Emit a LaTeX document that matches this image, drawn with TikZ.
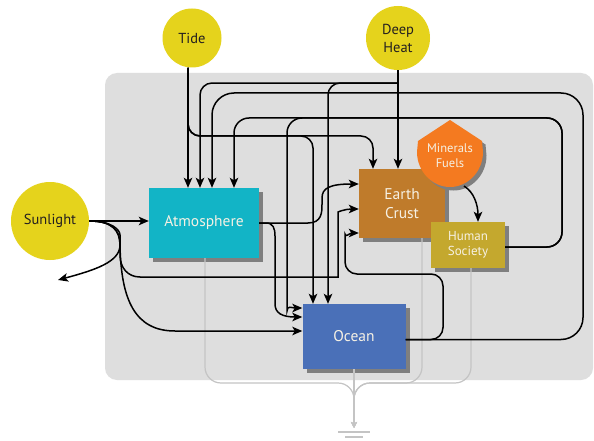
\documentclass[tikz,border=0pt]{standalone}
\usepackage{fontspec}
\setmainfont{PT Sans}
\usetikzlibrary{arrows.meta}
\definecolor{panel}{HTML}{DEDEDE}
\definecolor{sunyellow}{HTML}{E5D31C}
\definecolor{atmcol}{HTML}{12B4C6}
\definecolor{earthcol}{HTML}{BF7B2B}
\definecolor{mincol}{HTML}{F47A20}
\definecolor{humcol}{HTML}{C4A82E}
\definecolor{oceancol}{HTML}{4A70B8}
\definecolor{shadowgray}{HTML}{7F7F7F}
\definecolor{sinkcol}{HTML}{C4C4C4}
\definecolor{boxtext}{HTML}{F6F1E4}
\definecolor{darktext}{HTML}{231F20}

\begin{document}
\begin{tikzpicture}[x=1pt,y=-1pt,
  source/.style={circle,fill=sunyellow,inner sep=0pt,align=center,
    font=\fontsize{14.5}{18}\selectfont,text=darktext},
  store/.style={rectangle,inner sep=0pt,align=center,text=boxtext,
    preaction={fill=shadowgray,transform canvas={xshift=4pt,yshift=-4pt}}},
  flow/.style={line width=1.5pt,-{Stealth[length=10pt,width=8.5pt,inset=2.5pt]}},
  sink/.style={draw=sinkcol,line width=1.2pt,rounded corners=16pt,
    -{Stealth[length=6pt,width=6pt,inset=1.5pt]}},
  dropshape/.style={preaction={fill=shadowgray,transform canvas={xshift=3.5pt,yshift=-3.5pt}}},
]
\useasboundingbox (0,0) rectangle (594,441);
\fill[white] (0,0) rectangle (594,441);

% system boundary
\fill[panel,rounded corners=12pt] (105,73) rectangle (593,380);

% energy sources
\node[source,minimum size=59pt] (tide) at (192,38) {Tide};
\node[source,minimum size=64pt] (deep) at (398,38) {Deep\\Heat};
\node[source,minimum size=78pt] (sun) at (50,221) {Sunlight};

% storages
\node[store,fill=atmcol,minimum width=110pt,minimum height=70pt,
  font=\fontsize{15.5}{18}\selectfont] (atm) at (204,223) {Atmosphere};
\node[store,fill=earthcol,minimum width=86pt,minimum height=69pt,
  font=\fontsize{15.5}{18.5}\selectfont] (earth) at (402,203.5) {Earth\\Crust};

% minerals and fuels: pointed-top drop shape with its shadow
\fill[mincol,dropshape] (450,120) -- (418,141) -- (417,152)
  .. controls (417,171) and (431.8,187) .. (450,187)
  .. controls (468.2,187) and (483,171) .. (483,152) -- (482,141) -- cycle;
\node[circle,minimum size=66pt,inner sep=0pt,align=center,text=boxtext,
  font=\fontsize{12.5}{15}\selectfont] (minerals) at (450,156) {Minerals\\Fuels};

\node[store,fill=humcol,minimum width=74pt,minimum height=46pt,
  font=\fontsize{13}{15.5}\selectfont] (hs) at (468,245) {Human\\Society};
\node[store,fill=oceancol,minimum width=103pt,minimum height=65pt,
  font=\fontsize{15.5}{18}\selectfont] (ocean) at (354,336.5) {Ocean};

% heat sink
\coordinate (earthing) at (354,428);
\draw[sink] ([xshift=1pt]atm.south) -- (205,383) -- (354,383) -- (earthing);
\draw[sink] ([xshift=20pt]earth.south) -- (422,383) -- (354,383) -- (earthing);
\draw[sink] ([xshift=3pt]hs.south) -- (471,383) -- (354,383) -- (earthing);
\draw[sink] (ocean.south) -- (earthing);
\draw[sinkcol,line width=1.6pt] ([xshift=-16pt,yshift=-4pt]earthing) -- ([xshift=16pt,yshift=-4pt]earthing);
\draw[sinkcol,line width=1.6pt] ([xshift=-9pt,yshift=-9pt]earthing) -- ([xshift=9pt,yshift=-9pt]earthing);

% tide
\draw[flow] ([xshift=-4pt]tide.south) -- ([xshift=-16pt]atm.north);
\draw[flow,rounded corners=12pt] ([xshift=-4pt]tide.south) -- (188,136) -- (373,136)
  -- ([xshift=-29pt]earth.north);
\draw[flow,rounded corners=12pt] ([xshift=-4pt]tide.south) -- (188,136) -- (313,136)
  -- ([xshift=-41pt]ocean.north);

% deep heat
\coordinate (heatsplit) at ([yshift=-13pt]deep.south);
\draw[flow] (deep.south) -- ([xshift=-4pt]earth.north);
\draw[flow,rounded corners=12pt] (heatsplit) -- (200,83) -- ([xshift=-4pt]atm.north);
\draw[flow,rounded corners=12pt] (heatsplit) -- (328,83) -- ([xshift=-26pt]ocean.north);

% sunlight
\coordinate (space) at (58,280);
\draw[flow] (sun.east) -- ([yshift=2pt]atm.west);
\draw[flow] (sun.east) .. controls (112,221) and (120,230) .. (120,245)
  .. controls (120,262) and (95,270) .. (space);
\draw[flow,rounded corners=10pt] (sun.east) .. controls (112,221) and (120,230) .. (120,245)
  .. controls (120,268) and (128,277) .. (150,277) -- (328,277)
  .. controls (338,277) and (338,270) .. (338,262) -- (338,222)
  .. controls (338,212) and (345,209) .. ([yshift=-5.5pt]earth.west);
\draw[flow] (sun.east) .. controls (112,221) and (120,230) .. (120,245)
  .. controls (121,300) and (135,331) .. (175,331) -- ([yshift=5.5pt]ocean.west);

% atmosphere
\draw[flow] (atm.east) -- (308,223) .. controls (322,223) and (322,212) .. (322,204)
  -- (322,198) .. controls (322,188) and (330,184) .. ([yshift=19.5pt]earth.west);
\draw[flow] (atm.east) -- (266,223) .. controls (273,223) and (275,228) .. (275,236)
  -- (275,304) .. controls (275,313) and (282,317) .. ([yshift=19.5pt]ocean.west);

% ocean
\draw[flow,rounded corners=22pt] ([yshift=-3pt]ocean.east) -- (583,339.5) -- (583,93)
  -- (212,93) -- ([xshift=8pt]atm.north);
\draw[flow,rounded corners=12pt] ([yshift=-3pt]ocean.east) -- (443,339.5) -- (443,274)
  -- (345,274) -- (345,246) .. controls (345,238) and (350,233) .. ([yshift=-29.5pt]earth.west);

% human society
\draw[flow,rounded corners=15pt] ([yshift=-2pt]hs.east) -- (562,247) -- (562,118)
  -- (234,118) -- ([xshift=30pt]atm.north);
\draw[flow,rounded corners=15pt] ([yshift=-2pt]hs.east) -- (562,247) -- (562,118)
  -- (287,118) -- (287,296) .. controls (287,305) and (292,308) .. ([yshift=28.5pt]ocean.west);

% minerals and fuels
\draw[flow] (minerals.-65) .. controls (474,192) and (478,205) .. ([xshift=10pt]hs.north);
\end{tikzpicture}
\end{document}
